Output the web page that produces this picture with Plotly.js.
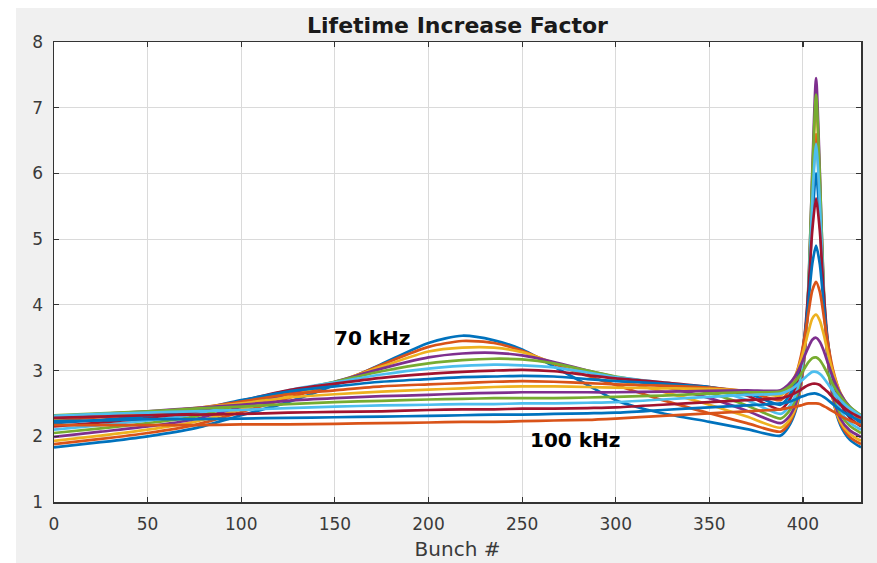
<!DOCTYPE html>
<html>
<head>
<meta charset="utf-8">
<script src="https://cdn.plot.ly/plotly-3.0.1.min.js"></script>
<style>
  html, body { margin: 0; padding: 0; background: #ffffff; }
  #chart { position: absolute; left: 16px; top: 8px; width: 861px; height: 555px; }
</style>
</head>
<body>
<div id="chart"></div>
<script>
// Bunch positions at which values were read
const bunch = [0,25,50,75,100,125,150,175,200,218,235,250,267,285,300,325,350,370,388,392,396,399,401,403,405,407,409,411,413,416,420,425,431];

// Series labels (70 kHz ... 100 kHz in 2 kHz steps)
const seriesNames = ['70 kHz','72 kHz','74 kHz','76 kHz','78 kHz','80 kHz','82 kHz','84 kHz','86 kHz','88 kHz','90 kHz','92 kHz','94 kHz','96 kHz','98 kHz','100 kHz'];

const lif70  = [1.83,1.91,2.00,2.12,2.32,2.52,2.78,3.10,3.42,3.53,3.46,3.32,3.06,2.78,2.55,2.35,2.22,2.11,2.01,2.13,2.38,2.78,3.29,4.13,5.30,6.00,5.29,4.11,3.26,2.57,2.17,1.95,1.83];
const lif72  = [1.88,1.96,2.05,2.17,2.37,2.58,2.80,3.09,3.36,3.45,3.42,3.30,3.10,2.92,2.78,2.55,2.35,2.20,2.07,2.17,2.41,2.79,3.31,4.22,5.65,6.60,5.64,4.20,3.27,2.58,2.20,1.99,1.88];
const lif74  = [1.93,2.01,2.10,2.22,2.41,2.62,2.82,3.06,3.29,3.35,3.35,3.28,3.12,2.98,2.86,2.68,2.48,2.30,2.13,2.22,2.43,2.79,3.29,4.23,5.88,7.10,5.87,4.21,3.25,2.58,2.22,2.04,1.93];
const lif76  = [1.99,2.07,2.15,2.26,2.45,2.65,2.83,3.03,3.20,3.26,3.27,3.23,3.13,3.00,2.90,2.76,2.58,2.39,2.20,2.28,2.48,2.83,3.32,4.28,6.05,7.45,6.03,4.25,3.28,2.62,2.27,2.09,1.99];
const lif78  = [2.05,2.12,2.20,2.30,2.49,2.68,2.83,2.99,3.11,3.16,3.18,3.17,3.11,3.00,2.91,2.80,2.66,2.47,2.27,2.36,2.56,2.92,3.41,4.35,5.99,7.20,5.97,4.33,3.37,2.70,2.34,2.16,2.05];
const lif80  = [2.10,2.17,2.24,2.34,2.52,2.70,2.82,2.94,3.03,3.07,3.09,3.08,3.05,2.97,2.90,2.82,2.72,2.55,2.34,2.43,2.63,2.99,3.45,4.28,5.58,6.45,5.57,4.25,3.40,2.76,2.40,2.21,2.10];
const lif82  = [2.15,2.21,2.28,2.37,2.54,2.70,2.80,2.89,2.95,2.98,3.00,3.01,2.99,2.93,2.88,2.82,2.75,2.62,2.41,2.52,2.75,3.12,3.57,4.26,5.14,5.62,5.13,4.23,3.52,2.90,2.50,2.28,2.15];
const lif84  = [2.20,2.25,2.31,2.40,2.55,2.68,2.76,2.83,2.87,2.90,2.91,2.92,2.91,2.87,2.84,2.80,2.75,2.66,2.48,2.59,2.83,3.17,3.55,4.07,4.63,4.90,4.62,4.03,3.50,2.95,2.57,2.34,2.20];
const lif86  = [2.24,2.29,2.34,2.42,2.53,2.64,2.70,2.76,2.79,2.81,2.83,2.84,2.83,2.81,2.79,2.77,2.74,2.68,2.55,2.67,2.91,3.23,3.53,3.89,4.22,4.35,4.20,3.85,3.47,3.02,2.65,2.40,2.24];
const lif88  = [2.27,2.32,2.36,2.43,2.50,2.59,2.64,2.68,2.71,2.73,2.75,2.76,2.76,2.75,2.74,2.73,2.72,2.69,2.62,2.73,2.93,3.17,3.38,3.60,3.79,3.85,3.76,3.56,3.31,2.98,2.66,2.43,2.27];
const lif90  = [2.30,2.34,2.38,2.43,2.48,2.54,2.58,2.61,2.63,2.65,2.66,2.67,2.67,2.67,2.67,2.68,2.69,2.70,2.70,2.78,2.92,3.09,3.23,3.36,3.47,3.50,3.44,3.31,3.14,2.90,2.65,2.45,2.30];
const lif92  = [2.32,2.35,2.38,2.42,2.45,2.49,2.52,2.54,2.56,2.57,2.58,2.58,2.58,2.59,2.60,2.62,2.65,2.67,2.68,2.74,2.84,2.95,3.04,3.13,3.19,3.20,3.16,3.07,2.96,2.79,2.61,2.45,2.32];
const lif94  = [2.31,2.34,2.36,2.38,2.40,2.43,2.45,2.47,2.48,2.49,2.49,2.50,2.50,2.51,2.52,2.56,2.60,2.63,2.65,2.69,2.76,2.84,2.89,2.94,2.98,2.98,2.95,2.89,2.81,2.69,2.55,2.42,2.31];
const lif96  = [2.28,2.30,2.32,2.33,2.34,2.36,2.37,2.38,2.40,2.41,2.41,2.42,2.42,2.43,2.44,2.48,2.52,2.55,2.58,2.61,2.66,2.71,2.75,2.78,2.80,2.80,2.78,2.73,2.68,2.59,2.48,2.37,2.28];
const lif98  = [2.23,2.24,2.26,2.26,2.27,2.28,2.29,2.30,2.31,2.32,2.33,2.33,2.34,2.35,2.36,2.40,2.44,2.47,2.50,2.52,2.56,2.60,2.62,2.64,2.65,2.65,2.63,2.60,2.56,2.49,2.40,2.31,2.23];
const lif100 = [2.17,2.17,2.17,2.17,2.18,2.18,2.19,2.20,2.21,2.22,2.22,2.23,2.24,2.25,2.27,2.31,2.35,2.38,2.41,2.43,2.45,2.47,2.49,2.50,2.50,2.50,2.49,2.46,2.43,2.38,2.31,2.24,2.17];

const xTicks = [0,50,100,150,200,250,300,350,400];
const yTicks = [1,2,3,4,5,6,7,8];

const allSeries = [lif70,lif72,lif74,lif76,lif78,lif80,lif82,lif84,lif86,lif88,lif90,lif92,lif94,lif96,lif98,lif100];
const palette = ['#0072BD','#D95319','#EDB120','#7E2F8E','#77AC30','#4DBEEE','#A2142F'];

const traces = allSeries.map((ys, i) => ({
  x: bunch,
  y: ys,
  type: 'scatter',
  mode: 'lines',
  name: seriesNames[i],
  line: { color: palette[i % palette.length], width: 2.7, shape: 'spline', smoothing: 0.7 },
  hoverinfo: 'skip'
}));

const axisCommon = {
  showline: true,
  linecolor: '#333333',
  linewidth: 1.5,
  mirror: 'ticks',
  ticks: 'inside',
  ticklen: 5,
  tickwidth: 1.2,
  tickcolor: '#333333',
  showgrid: true,
  gridcolor: '#dadada',
  gridwidth: 1,
  zeroline: false,
  tickfont: { family: 'DejaVu Sans, Arial, sans-serif', size: 17, color: '#3a3a3a' },
  ticklabelstandoff: 6
};

const layout = {
  width: 861,
  height: 555,
  margin: { l: 38, r: 16, t: 34, b: 61 },
  paper_bgcolor: '#f0f0f0',
  plot_bgcolor: '#ffffff',
  showlegend: false,
  title: {
    text: '<b>Lifetime Increase Factor</b>',
    font: { family: 'DejaVu Sans, Arial, sans-serif', size: 22, color: '#1a1a1a' },
    x: 0.5, xref: 'paper', xanchor: 'center',
    y: 1 - 17/555, yref: 'container', yanchor: 'middle'
  },
  xaxis: Object.assign({}, axisCommon, {
    range: [0, 431],
    tickvals: xTicks,
    ticktext: xTicks.map(String),
    title: { text: 'Bunch #', font: { family: 'DejaVu Sans, Arial, sans-serif', size: 20, color: '#3a3a3a' }, standoff: 9 }
  }),
  yaxis: Object.assign({}, axisCommon, {
    range: [1, 8],
    tickvals: yTicks,
    ticktext: yTicks.map(String)
  }),
  annotations: [
    { x: 170, y: 3.50, xref: 'x', yref: 'y', text: '<b>70 kHz</b>', showarrow: false,
      font: { family: 'DejaVu Sans, Arial, sans-serif', size: 20, color: '#000000' } },
    { x: 278.5, y: 1.95, xref: 'x', yref: 'y', text: '<b>100 kHz</b>', showarrow: false,
      font: { family: 'DejaVu Sans, Arial, sans-serif', size: 20, color: '#000000' } }
  ]
};

Plotly.newPlot('chart', traces, layout, { displayModeBar: false, staticPlot: true });
</script>
</body>
</html>
